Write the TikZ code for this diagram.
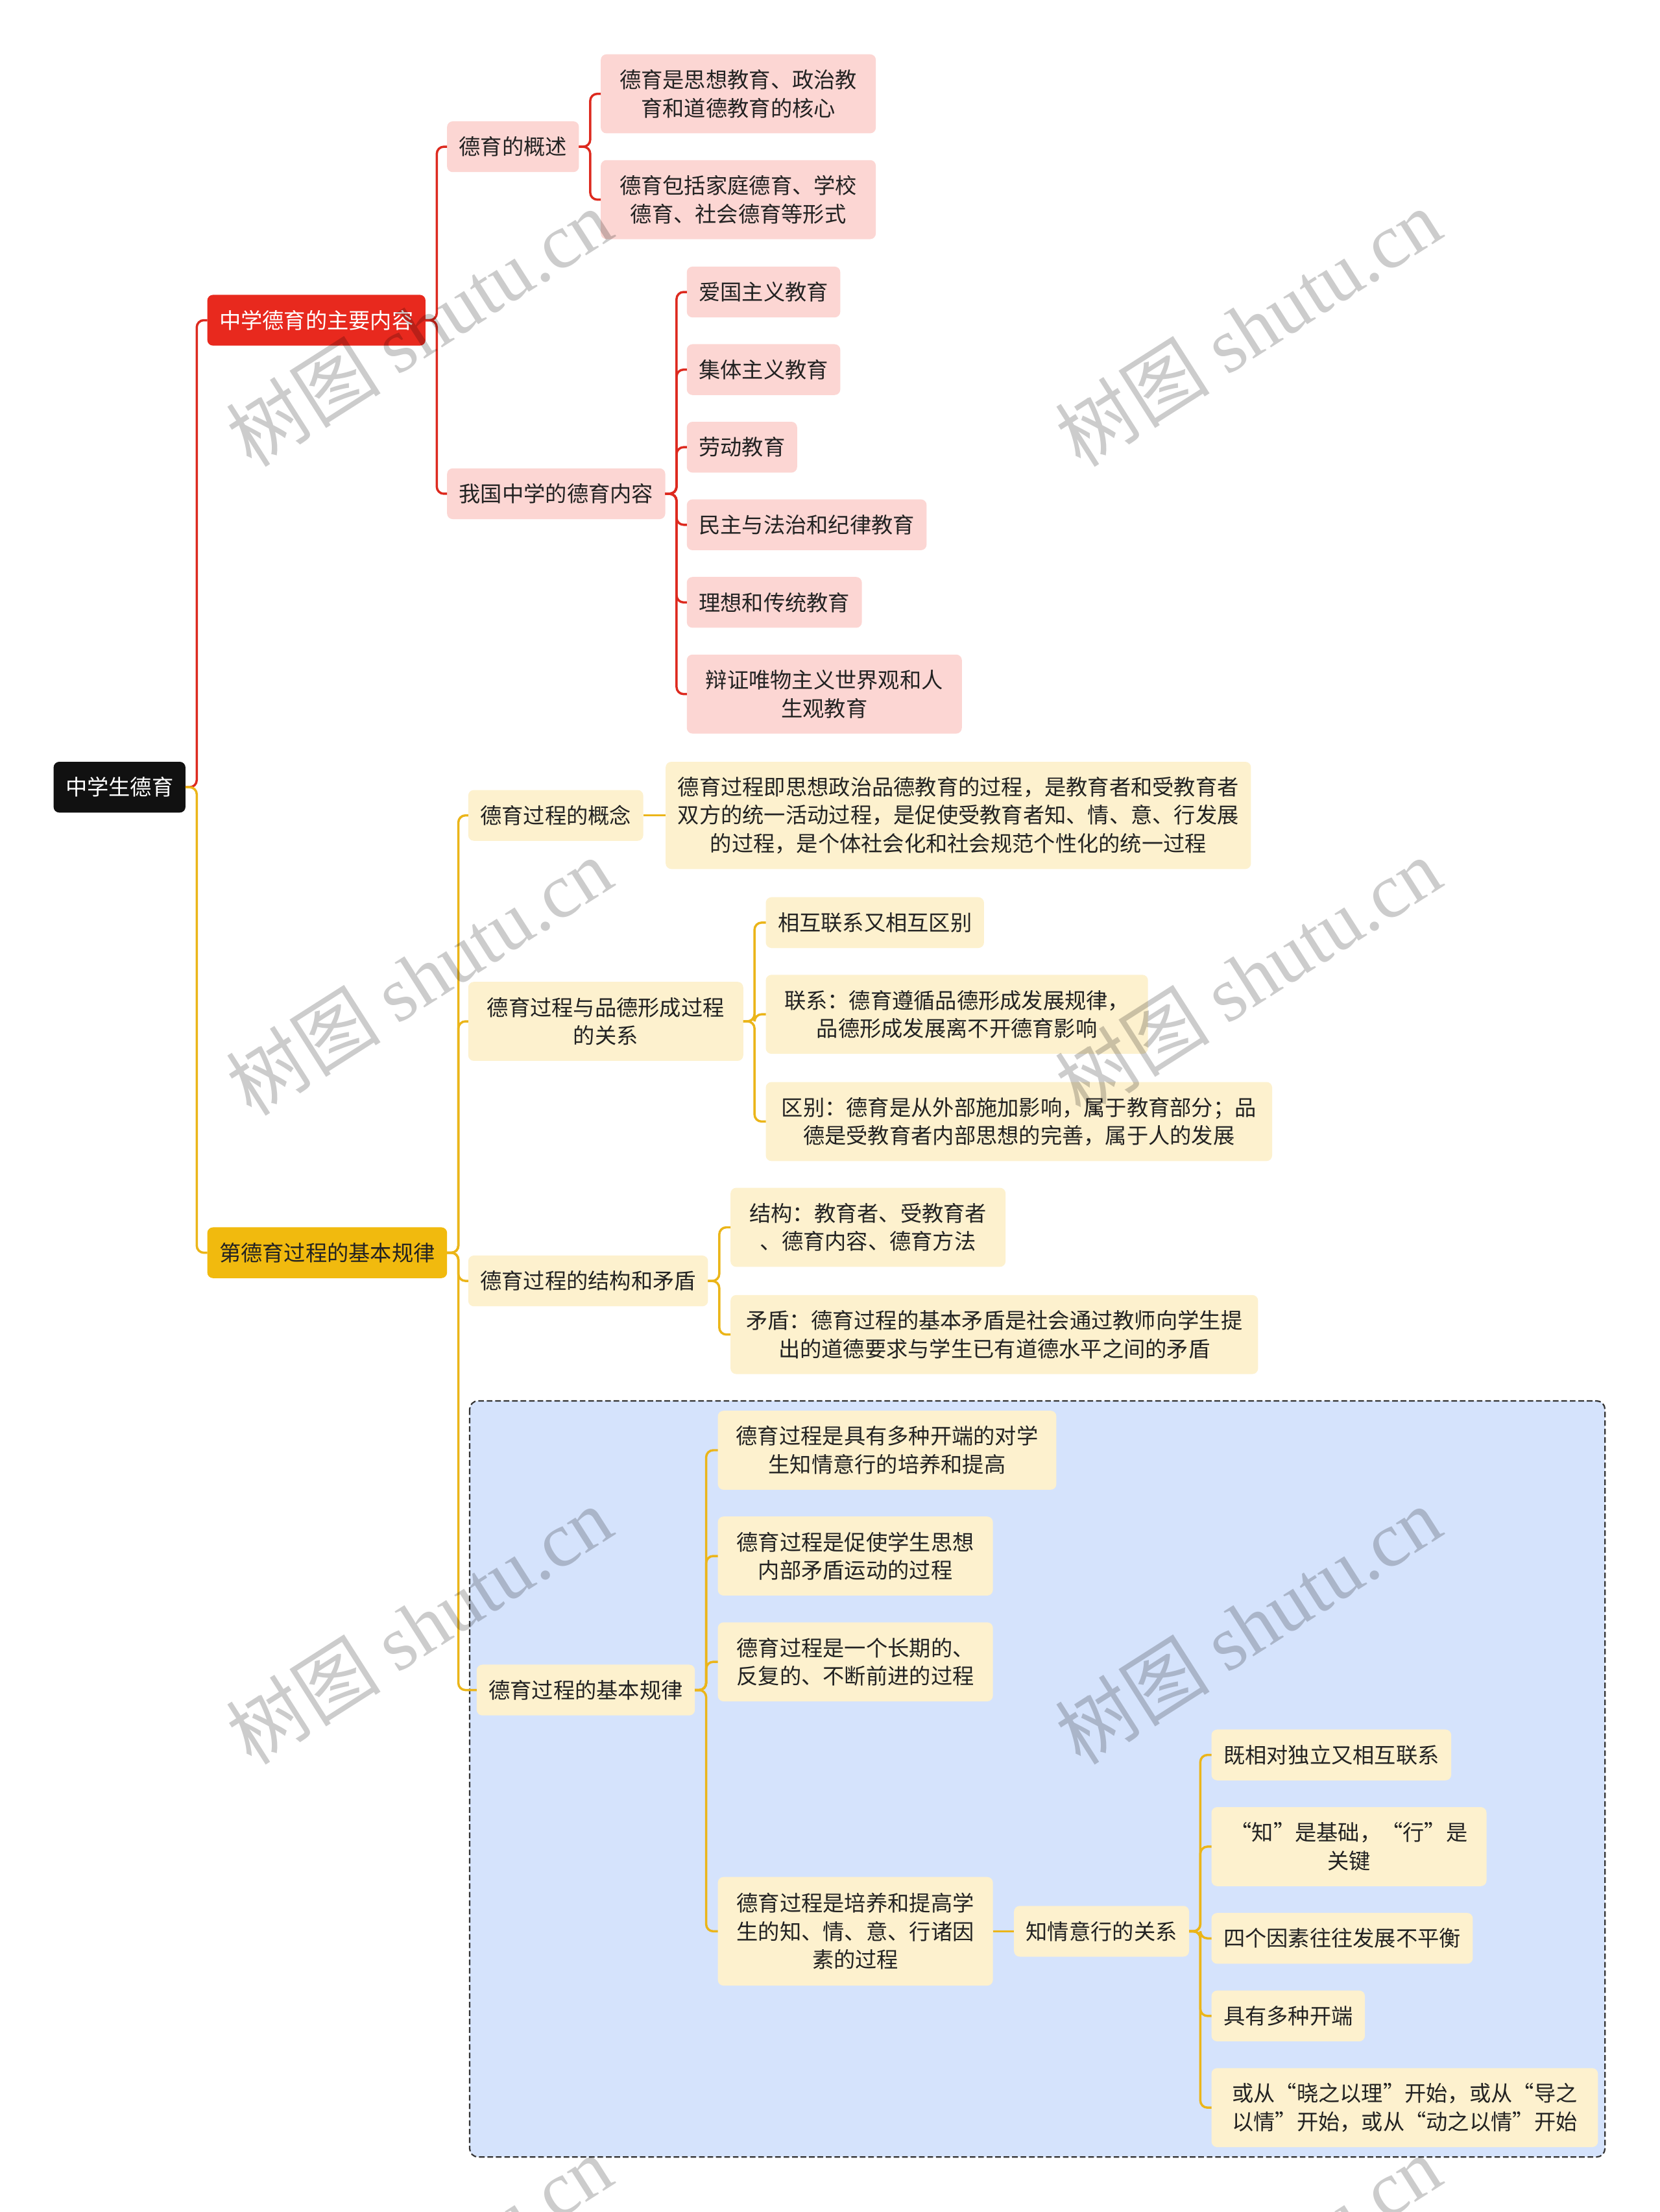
\documentclass[tikz,border=0pt]{standalone}
\usepackage{fontspec}
\setmainfont{Noto Sans CJK SC}
\newfontfamily\wmfont{Liberation Serif}

\definecolor{rootc}{HTML}{111111}
\definecolor{redc}{HTML}{E8291E}
\definecolor{pinkc}{HTML}{FCD6D3}
\definecolor{redl}{HTML}{DD2A1F}
\definecolor{yelc}{HTML}{F1BA0E}
\definecolor{creamc}{HTML}{FDF1CE}
\definecolor{yell}{HTML}{EBB519}
\definecolor{bluec}{HTML}{D5E3FC}
\definecolor{txt}{HTML}{222222}

\tikzset{
  box/.style={anchor=west, rounded corners=4pt, inner xsep=8.5pt, inner ysep=4pt,
    outer sep=0pt, minimum height=36pt, align=center, text=txt,
    font=\fontsize{15.3pt}{20pt}\selectfont},
  rootbox/.style={box, fill=rootc, text=white},
  redmain/.style={box, fill=redc, text=white},
  yelmain/.style={box, fill=yelc},
  pinkbox/.style={box, fill=pinkc},
  creambox/.style={box, fill=creamc},
  twoline/.style={minimum width=#1, minimum height=56pt},
  redline/.style={draw=redl, line width=1.6pt, rounded corners=5pt},
  yelline/.style={draw=yell, line width=1.6pt, rounded corners=5pt},
  wm/.style={text=black, text opacity=0.2, rotate=32.5,
    font=\fontsize{55pt}{55pt}\selectfont}
}

\begin{document}
\begin{tikzpicture}[x=1pt, y=-1pt]
\path[use as bounding box, fill=white] (0,0) rectangle (1177,1568);

% dashed frame round the laws of the process
\draw[fill=bluec, draw=black!80, line width=1pt, dash pattern=on 4pt off 2pt,
  rounded corners=6pt] (333,993) rectangle (1138,1529);

% root and main branches
\node[rootbox] (root) at (38,558) {中学生德育};
\node[redmain] (zy) at (147,227) {中学德育的主要内容};
\node[yelmain] (gl) at (147,888) {第德育过程的基本规律};

% red branch
\node[pinkbox] (gs) at (317,104) {德育的概述};
\node[pinkbox, twoline=195pt] (gs1) at (426,66.5) {德育是思想教育、政治教\\育和道德教育的核心};
\node[pinkbox, twoline=195pt] (gs2) at (426,141.5) {德育包括家庭德育、学校\\德育、社会德育等形式};
\node[pinkbox] (nr) at (317,350) {我国中学的德育内容};
\node[pinkbox] (nr1) at (487,207) {爱国主义教育};
\node[pinkbox] (nr2) at (487,262) {集体主义教育};
\node[pinkbox] (nr3) at (487,317) {劳动教育};
\node[pinkbox] (nr4) at (487,372) {民主与法治和纪律教育};
\node[pinkbox] (nr5) at (487,427) {理想和传统教育};
\node[pinkbox, twoline=195pt] (nr6) at (487,492) {辩证唯物主义世界观和人\\生观教育};

% yellow branch
\node[creambox] (gn) at (332,578) {德育过程的概念};
\node[creambox, minimum width=415pt, minimum height=76pt] (gn1) at (472,578)
  {德育过程即思想政治品德教育的过程，是教育者和受教育者\\双方的统一活动过程，是促使受教育者知、情、意、行发展\\的过程，是个体社会化和社会规范个性化的统一过程};
\node[creambox, twoline=195pt] (gx) at (332,724) {德育过程与品德形成过程\\的关系};
\node[creambox] (gx1) at (543,654) {相互联系又相互区别};
\node[creambox, twoline=271pt] (gx2) at (543,719) {联系：德育遵循品德形成发展规律，\\品德形成发展离不开德育影响};
\node[creambox, twoline=359pt] (gx3) at (543,795) {区别：德育是从外部施加影响，属于教育部分；品\\德是受教育者内部思想的完善，属于人的发展};
\node[creambox] (jg) at (332,908) {德育过程的结构和矛盾};
\node[creambox, twoline=195pt] (jg1) at (518,870) {结构：教育者、受教育者\\、德育内容、德育方法};
\node[creambox, twoline=374pt] (jg2) at (518,946) {矛盾：德育过程的基本矛盾是社会通过教师向学生提\\出的道德要求与学生已有道德水平之间的矛盾};
\node[creambox] (gz) at (338,1198) {德育过程的基本规律};
\node[creambox, twoline=240pt] (gz1) at (509,1028) {德育过程是具有多种开端的对学\\生知情意行的培养和提高};
\node[creambox, twoline=195pt] (gz2) at (509,1103) {德育过程是促使学生思想\\内部矛盾运动的过程};
\node[creambox, twoline=195pt] (gz3) at (509,1178) {德育过程是一个长期的、\\反复的、不断前进的过程};
\node[creambox, minimum width=195pt, minimum height=77pt] (gz4) at (509,1369) {德育过程是培养和提高学\\生的知、情、意、行诸因\\素的过程};
\node[creambox] (zq) at (719,1369) {知情意行的关系};
\node[creambox] (zq1) at (859,1244) {既相对独立又相互联系};
\node[creambox, twoline=195pt] (zq2) at (859,1309) {“知”是基础，“行”是\\关键};
\node[creambox] (zq3) at (859,1374) {四个因素往往发展不平衡};
\node[creambox] (zq4) at (859,1429) {具有多种开端};
\node[creambox, twoline=274pt] (zq5) at (859,1494) {或从“晓之以理”开始，或从“导之\\以情”开始，或从“动之以情”开始};

% connectors
\draw[redline] (root.east) -- ++(8,0) |- (zy.west);
\draw[yelline] (root.east) -- ++(8,0) |- (gl.west);
\foreach \c in {gs,nr} \draw[redline] (zy.east) -- ++(8,0) |- (\c.west);
\foreach \c in {gs1,gs2} \draw[redline] (gs.east) -- ++(8,0) |- (\c.west);
\foreach \c in {nr1,nr2,nr3,nr4,nr5,nr6} \draw[redline] (nr.east) -- ++(8,0) |- (\c.west);
\foreach \c in {gn,gx,jg,gz} \draw[yelline] (gl.east) -- ++(8,0) |- (\c.west);
\draw[yelline] (gn.east) -- (gn1.west);
\foreach \c in {gx1,gx2,gx3} \draw[yelline] (gx.east) -- ++(8,0) |- (\c.west);
\foreach \c in {jg1,jg2} \draw[yelline] (jg.east) -- ++(8,0) |- (\c.west);
\foreach \c in {gz1,gz2,gz3,gz4} \draw[yelline] (gz.east) -- ++(8,0) |- (\c.west);
\draw[yelline] (gz4.east) -- (zq.west);
\foreach \c in {zq1,zq2,zq3,zq4,zq5} \draw[yelline] (zq.east) -- ++(8,0) |- (\c.west);

% watermark
\begin{scope}
\clip (0,0) rectangle (1177,1568);
\foreach \wx in {297,885}
  \foreach \wy in {232,692,1152,1612}
    \node[wm] at (\wx,\wy) {树图 {\wmfont shutu.cn}};
\end{scope}
\end{tikzpicture}
\end{document}
